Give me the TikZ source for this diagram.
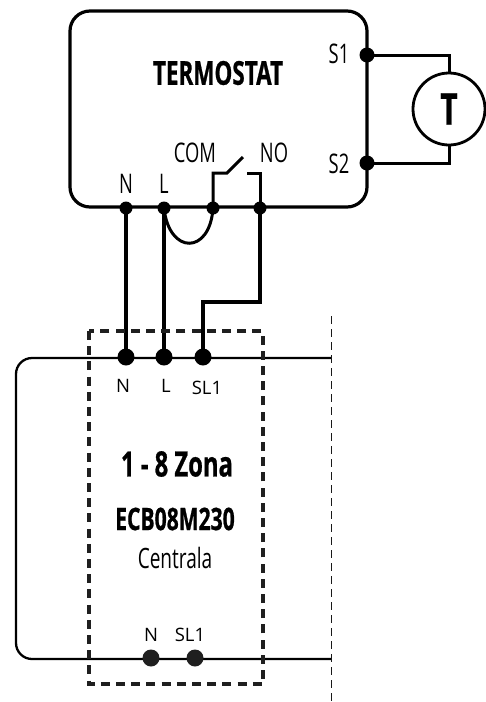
\documentclass[tikz,border=0pt]{standalone}
\usepackage{fontspec}
\setmainfont{Open Sans}
\newfontfamily\cond[FakeStretch=0.68]{Open Sans}
\newfontfamily\condb[FakeStretch=0.68,FakeBold=0.7]{Open Sans}
\begin{document}
\begin{tikzpicture}[x=1pt,y=-1pt,
  wire/.style={line width=3pt,line join=miter},
  thick wire/.style={line width=4pt},
  dot/.style={circle,fill=black,inner sep=0pt,minimum size=#1},
  cnd/.style={font=\cond\fontsize{#1}{#1}\selectfont,inner sep=0pt,text=black},
  cndb/.style={font=\condb\bfseries\fontsize{#1}{#1}\selectfont,inner sep=0pt,text=black},
  reg/.style={font=\fontsize{#1}{#1}\selectfont,inner sep=0pt,text=black},
  ]
\useasboundingbox (0,0) rectangle (486,702);
% Thermostat box
\node[draw,line width=3.2pt,rounded corners=20pt,minimum width=297pt,minimum height=196pt,inner sep=0pt] (box) at (218.5,109) {};
\node[cndb=33] (title) at (218,73) {TERMOSTAT};
\node[cnd=27] (ls1) at (339,54) {S1};
\node[cnd=27] (ls2) at (339,164) {S2};
\node[cnd=27] (lcom) at (195,153) {COM};
\node[cnd=27] (lno) at (274,153) {NO};
\node[cnd=27] (ln) at (126,184) {N};
\node[cnd=27] (ll) at (164,184) {L};
% Thermostat terminals
\node[dot=15pt] (s1) at (367,55) {};
\node[dot=15pt] (s2) at (367,163) {};
\node[dot=13pt] (tn) at (126,208) {};
\node[dot=13pt] (tl) at (164,208) {};
\node[dot=13pt] (tcom) at (213,208) {};
\node[dot=13pt] (tno) at (260,208) {};
% Sensor
\node[draw,circle,line width=2.8pt,minimum size=72pt,inner sep=0pt,cndb=44] (sensor) at (449,109) {T};
\draw[wire] (s1.center) -| (sensor.north);
\draw[wire] (s2.center) -| (sensor.south);
% Relay contact
\coordinate (c1) at (213,173);
\coordinate (c2) at (227,173);
\coordinate (c3) at (243,157);
\coordinate (c4) at (247,173);
\coordinate (c5) at (260,173);
\draw[wire] (tcom.center) -- (c1) -- (c2) -- (c3);
\draw[wire] (c4) -- (c5) -- (tno.center);
\draw[wire] (tl.center) .. controls (169,255) and (210,255) .. (tcom.center);
% Zone bus
\coordinate (r1) at (331,358);
\coordinate (r2) at (331,659);
\coordinate (l1) at (16,358);
\coordinate (l2) at (16,659);
\draw[line width=2.3pt,rounded corners=16pt] (r1) -- (l1) -- (l2) -- (r2);
\node[dot=17pt] (bn) at (126,357) {};
\node[dot=17pt] (bl) at (164,357) {};
\node[dot=17pt] (bs) at (203,357) {};
\node[dot=17pt,fill=black!88] (cn) at (151,658) {};
\node[dot=17pt,fill=black!88] (cs) at (195,658) {};
% Wires
\draw[thick wire] (tn.center) -- (bn.center);
\draw[thick wire] (tl.center) -- (bl.center);
\coordinate (w1) at (260,302);
\coordinate (w2) at (203,302);
\draw[thick wire,line join=miter] (tno.center) -- (w1) -- (w2) -- (bs.center);
% Dashed boundaries
\draw[line width=3.6pt,black!88,dash pattern=on 9pt off 6.2pt] (89,331) rectangle (263,684);
\coordinate (d1) at (331,316);
\coordinate (d2) at (331,702);
\draw[line width=1pt,black!90,dash pattern=on 8pt off 5pt] (d1) -- (d2);
% Labels
\node[reg=18.5] (n1) at (123,386) {N};
\node[reg=18.5] (n2) at (166,386) {L};
\node[reg=18.5] (n3) at (207,388) {SL1};
\node[reg=18.5] (n4) at (151,635) {N};
\node[reg=18.5] (n5) at (190,635) {SL1};
\node[cndb=35] (zona) at (177,464) {1 - 8 Zona};
\node[cndb=31] (ecb) at (175,519) {ECB08M230};
\node[cnd=28] (cent) at (175,558) {Centrala};
\end{tikzpicture}
\end{document}
